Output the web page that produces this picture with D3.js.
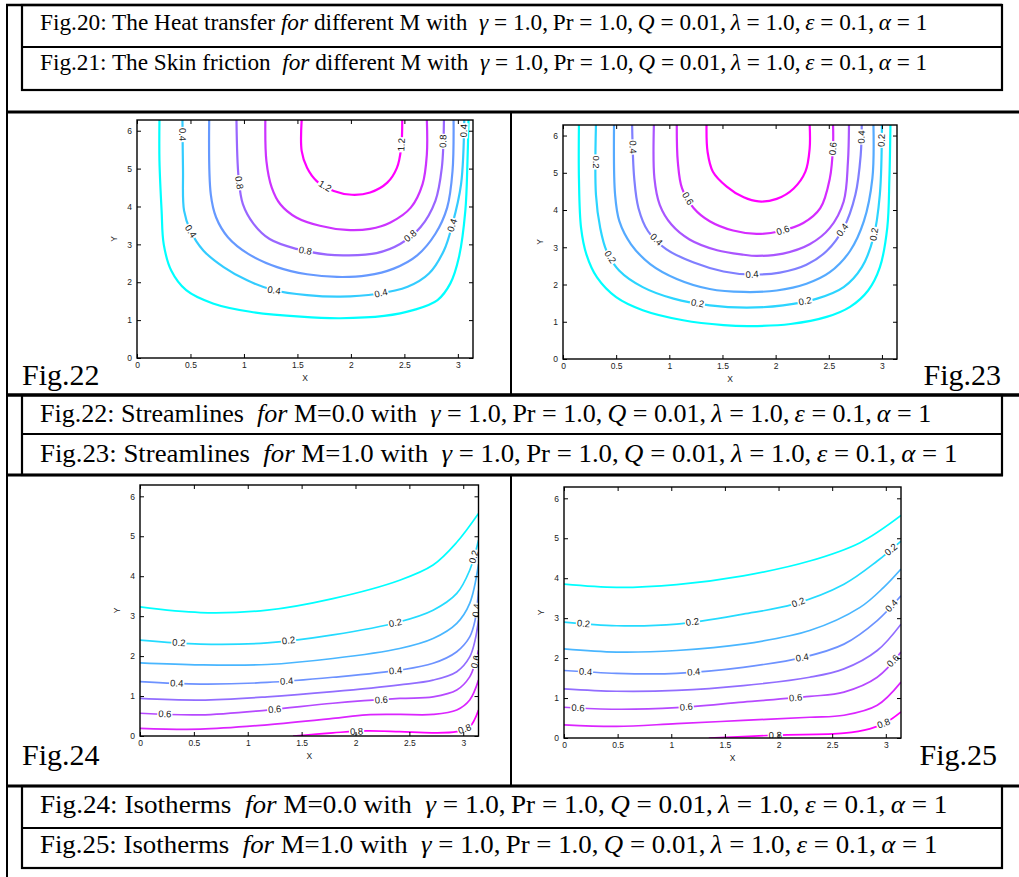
<!DOCTYPE html>
<html>
<head>
<meta charset="utf-8">
<script src="https://cdn.jsdelivr.net/npm/d3@7"></script>
<style>
  body { margin: 0; background: #fff; }
  svg { display: block; }
</style>
</head>
<body>
<script>
// ---- data ----
const xTicks = [0, 0.5, 1, 1.5, 2, 2.5, 3];
const yTicks = [0, 1, 2, 3, 4, 5, 6];

const paramText = "_γ_ = 1.0,\u2009Pr = 1.0,\u2009_Q_ = 0.01,\u2009_λ_ = 1.0,\u2009_ε_ = 0.1,\u2009_α_ = 1";
const captionsTop = [
  "Fig.20: The Heat transfer _for_ different M with  " + paramText,
  "Fig.21: The Skin friction  _for_ different M with  " + paramText
];
const captionsMid = [
  "Fig.22: Streamlines  _for_ M=0.0 with  " + paramText,
  "Fig.23: Streamlines  _for_ M=1.0 with  " + paramText
];
const captionsBot = [
  "Fig.24: Isotherms  _for_ M=0.0 with  " + paramText,
  "Fig.25: Isotherms  _for_ M=1.0 with  " + paramText
];
const figNames = ["Fig.22", "Fig.23", "Fig.24", "Fig.25"];

// Fig.22 streamlines, M = 0
const fig22Levels = [0.2, 0.4, 0.6, 0.8, 1.0, 1.2];
const fig22Lines = [
  [[0.21,6.3],[0.21,5.2],[0.23,3.89],[0.25,3.0],[0.32,2.31],[0.46,1.79],[0.71,1.44],[1.06,1.22],[1.53,1.09],[1.9,1.05],[2.31,1.11],[2.59,1.27],[2.81,1.53],[2.93,1.97],[3.01,2.66],[3.07,3.89],[3.09,5.2],[3.1,6.3]],
  [[0.425,6.3],[0.43,5.0],[0.44,3.89],[0.5,3.36],[0.62,2.84],[0.81,2.4],[1.03,2.05],[1.28,1.79],[1.59,1.66],[1.9,1.62],[2.24,1.69],[2.53,1.88],[2.73,2.23],[2.87,2.84],[2.95,3.54],[3.03,4.59],[3.06,6.3]],
  [[0.675,6.3],[0.69,4.32],[0.74,3.71],[0.85,3.19],[1.04,2.75],[1.31,2.4],[1.59,2.21],[1.87,2.14],[2.15,2.18],[2.4,2.36],[2.62,2.71],[2.79,3.28],[2.9,3.97],[2.95,4.93],[2.96,6.3]],
  [[0.93,6.3],[0.95,4.76],[0.99,4.06],[1.09,3.54],[1.24,3.14],[1.49,2.88],[1.78,2.73],[1.96,2.71],[2.24,2.77],[2.46,3.01],[2.65,3.45],[2.79,4.15],[2.85,5.02],[2.87,6.3]],
  [[1.2,6.3],[1.21,5.2],[1.26,4.5],[1.34,4.06],[1.49,3.71],[1.71,3.49],[1.96,3.38],[2.18,3.41],[2.37,3.58],[2.56,3.97],[2.67,4.59],[2.71,5.37],[2.71,6.3]],
  [[1.54,6.3],[1.54,5.46],[1.59,5.02],[1.68,4.67],[1.84,4.41],[2.01,4.31],[2.18,4.37],[2.34,4.63],[2.43,5.02],[2.47,5.55],[2.48,6.3]]
];
const fig22Labels = [
  [0.4,0.42,5.9],[0.4,0.51,3.36],[0.4,1.28,1.75],[0.4,2.28,1.72],[0.4,2.96,3.49],[0.4,3.06,6.0],
  [0.8,0.96,4.63],[0.8,1.57,2.77],[0.8,2.54,3.28],[0.8,2.87,5.72],
  [1.2,1.74,4.45],[1.2,2.46,5.63]
];

// Fig.23 streamlines, M = 1
const fig23Levels = [0.1, 0.2, 0.3, 0.4, 0.5, 0.6, 0.7];
const fig23Lines = [
  [[0.15,6.3],[0.15,4.85],[0.17,3.52],[0.22,2.81],[0.32,2.19],[0.5,1.66],[0.75,1.31],[1.13,1.04],[1.51,0.91],[1.76,0.885],[2.14,0.94],[2.48,1.13],[2.7,1.4],[2.87,1.84],[2.98,2.46],[3.05,3.52],[3.07,4.85],[3.08,6.3]],
  [[0.31,6.3],[0.31,4.41],[0.35,3.52],[0.41,2.9],[0.53,2.37],[0.75,1.93],[1.04,1.62],[1.38,1.44],[1.73,1.38],[2.07,1.44],[2.39,1.62],[2.64,1.93],[2.81,2.46],[2.92,3.26],[2.98,4.41],[3.0,6.3]],
  [[0.48,6.3],[0.49,4.41],[0.53,3.7],[0.64,3.08],[0.82,2.55],[1.07,2.15],[1.38,1.88],[1.7,1.8],[2.01,1.84],[2.29,2.02],[2.51,2.33],[2.7,2.9],[2.83,3.7],[2.91,4.85],[2.92,6.3]],
  [[0.65,6.3],[0.67,4.85],[0.71,4.05],[0.8,3.43],[0.97,2.95],[1.23,2.59],[1.51,2.35],[1.76,2.27],[2.04,2.32],[2.29,2.53],[2.48,2.9],[2.64,3.52],[2.75,4.41],[2.8,5.47],[2.81,6.3]],
  [[0.855,6.3],[0.86,4.85],[0.91,4.14],[1.02,3.61],[1.19,3.21],[1.45,2.92],[1.7,2.8],[1.82,2.77],[2.07,2.83],[2.32,3.08],[2.51,3.52],[2.64,4.23],[2.68,5.29],[2.69,6.3]],
  [[1.07,6.3],[1.08,5.29],[1.12,4.58],[1.23,4.05],[1.38,3.7],[1.6,3.45],[1.82,3.36],[2.04,3.43],[2.26,3.65],[2.42,4.05],[2.51,4.85],[2.54,5.73],[2.54,6.3]],
  [[1.35,6.3],[1.36,5.56],[1.41,5.03],[1.54,4.63],[1.7,4.34],[1.84,4.23],[2.01,4.3],[2.17,4.58],[2.28,5.03],[2.32,5.65],[2.32,6.3]]
];
const fig23Labels = [
  [0.2,0.3,5.29],[0.2,0.44,2.73],[0.2,1.26,1.42],[0.2,2.28,1.5],[0.2,2.92,3.35],[0.2,3.0,5.87],
  [0.4,0.64,5.69],[0.4,0.88,3.21],[0.4,1.78,2.21],[0.4,2.62,3.48],[0.4,2.81,5.96],
  [0.6,1.18,4.32],[0.6,2.06,3.52],[0.6,2.53,5.65]
];

// Fig.24 isotherms, M = 0
const fig24Levels = [0.1, 0.2, 0.3, 0.4, 0.5, 0.6, 0.7, 0.8];
const fig24Lines = [
  [[0,3.23],[0.56,3.09],[1.18,3.15],[1.79,3.44],[2.41,3.9],[2.72,4.28],[2.94,4.85],[3.1416,5.57]],
  [[0,2.4],[0.56,2.3],[1.18,2.33],[1.79,2.53],[2.41,2.86],[2.72,3.15],[2.94,3.57],[3.06,4.15],[3.1416,4.9]],
  [[0,1.83],[0.56,1.78],[1.18,1.79],[1.79,1.94],[2.41,2.19],[2.72,2.44],[2.94,2.82],[3.06,3.32],[3.1416,4.3]],
  [[0,1.36],[0.56,1.3],[1.18,1.34],[1.79,1.47],[2.41,1.65],[2.72,1.82],[2.94,2.11],[3.06,2.48],[3.11,2.9],[3.1416,3.65]],
  [[0,0.94],[0.56,0.9],[1.18,0.98],[1.79,1.11],[2.41,1.28],[2.72,1.4],[2.94,1.61],[3.06,1.98],[3.11,2.4],[3.1416,2.9]],
  [[0,0.57],[0.56,0.53],[1.18,0.65],[1.79,0.82],[2.41,0.94],[2.72,0.98],[2.94,1.15],[3.06,1.48],[3.11,1.82],[3.1416,2.15]],
  [[0,0.19],[0.56,0.17],[1.18,0.28],[1.79,0.44],[2.1,0.53],[2.41,0.54],[2.72,0.54],[2.94,0.65],[3.06,0.9],[3.1416,1.4]],
  [[1.42,0],[1.79,0.08],[2.1,0.13],[2.41,0.11],[2.72,0.08],[2.94,0.11],[3.06,0.23],[3.1416,0.65]]
];
const fig24Labels = [
  [0.2,0.36,2.28],[0.2,1.38,2.36],[0.2,2.37,2.82],[0.2,3.09,4.49],
  [0.4,0.34,1.28],[0.4,1.36,1.42],[0.4,2.37,1.69],[0.4,3.11,3.15],
  [0.6,0.23,0.48],[0.6,1.25,0.67],[0.6,2.24,0.88],[0.6,3.11,1.86],
  [0.8,2.01,0.13],[0.8,3.01,0.2]
];

// Fig.25 isotherms, M = 1
const fig25Levels = [0.1, 0.2, 0.3, 0.4, 0.5, 0.6, 0.7, 0.8];
const fig25Lines = [
  [[0,3.85],[0.49,3.77],[1.05,3.84],[1.67,4.06],[2.29,4.43],[2.76,4.89],[3.1416,5.57]],
  [[0,2.9],[0.49,2.81],[1.05,2.85],[1.67,3.1],[2.14,3.35],[2.61,3.85],[2.92,4.43],[3.1416,4.93]],
  [[0,2.23],[0.49,2.15],[1.05,2.19],[1.67,2.35],[2.29,2.69],[2.76,3.27],[2.98,3.77],[3.1416,4.23]],
  [[0,1.69],[0.49,1.62],[1.05,1.62],[1.67,1.77],[2.23,2.02],[2.61,2.35],[2.92,2.94],[3.1416,3.56]],
  [[0,1.23],[0.49,1.17],[1.05,1.19],[1.67,1.31],[2.29,1.52],[2.61,1.73],[2.92,2.19],[3.1416,2.85]],
  [[0,0.77],[0.49,0.72],[1.05,0.76],[1.67,0.9],[2.29,1.04],[2.61,1.15],[2.92,1.52],[3.1416,2.15]],
  [[0,0.33],[0.49,0.29],[1.05,0.36],[1.67,0.44],[2.29,0.52],[2.61,0.57],[2.92,0.82],[3.1416,1.4]],
  [[1.35,0],[1.98,0.07],[2.61,0.12],[2.85,0.23],[3.01,0.4],[3.1416,0.65]]
];
const fig25Labels = [
  [0.2,0.18,2.8],[0.2,1.2,2.85],[0.2,2.19,3.35],[0.2,3.06,4.68],
  [0.4,0.2,1.62],[0.4,1.21,1.65],[0.4,2.22,2.02],[0.4,3.07,3.27],
  [0.6,0.13,0.73],[0.6,1.14,0.76],[0.6,2.16,0.97],[0.6,3.08,1.9],
  [0.8,1.97,0.07],[0.8,2.98,0.36]
];

// ---- drawing ----
const W = 1019, H = 877;
const svg = d3.select('body').append('svg')
  .attr('width', W)
  .attr('height', H);

const serif = "'Liberation Serif','Times New Roman',serif";
const sans = "Arial,'Liberation Sans',Helvetica,sans-serif";

// page table lines
let hline = (x1, x2, y, w) => svg.append('line')
  .attr('x1', x1).attr('x2', x2).attr('y1', y).attr('y2', y)
  .attr('stroke', '#000').attr('stroke-width', w);
let vline = (x, y1, y2, w) => svg.append('line')
  .attr('x1', x).attr('x2', x).attr('y1', y1).attr('y2', y2)
  .attr('stroke', '#000').attr('stroke-width', w);

vline(7, 4, H, 2);
hline(6, 1002, 5, 2.5);
hline(6, W, 112, 3);
vline(511, 112, 395, 2);
hline(6, W, 395, 3.5);
hline(6, 1003, 475, 3);
vline(511, 475, 786, 2);
hline(6, W, 786, 3);

let captionBox = (y0, y1, y2) => {
  svg.append('rect')
    .attr('x', 22).attr('y', y0).attr('width', 980).attr('height', y2 - y0)
    .attr('fill', 'none').attr('stroke', '#000').attr('stroke-width', 2.2);
  hline(22, 1002, y1, 2);
};
captionBox(5, 47, 90);
captionBox(395, 434, 475);
captionBox(786, 828, 868);

let caption = (str, baseline, size, endX) => {
  const t = svg.append('text')
    .attr('x', 0).attr('y', 0)
    .style('font-family', serif)
    .style('font-size', size + 'px')
    .style('white-space', 'pre')
    .attr('fill', '#000');
  str.split('_').forEach((part, i) => {
    t.append('tspan').text(part).style('font-style', i % 2 ? 'italic' : 'normal');
  });
  const len = t.node().getComputedTextLength();
  const sx = (endX - 40) / len;
  t.attr('transform', `translate(40,${baseline}) scale(${sx},1)`);
};
caption(captionsTop[0], 30, 23, 928);
caption(captionsTop[1], 70, 23, 928);
caption(captionsMid[0], 422, 25, 932);
caption(captionsMid[1], 462, 25, 958);
caption(captionsBot[0], 813, 25, 948);
caption(captionsBot[1], 853, 25, 938);

let figLabel = (name, x, y, anchor) => svg.append('text')
  .text(name)
  .attr('x', x).attr('y', y)
  .attr('text-anchor', anchor)
  .style('font-family', serif)
  .style('font-size', '30px');
figLabel(figNames[0], 22, 385, 'start');
figLabel(figNames[1], 1001, 385, 'end');
figLabel(figNames[2], 22, 765, 'start');
figLabel(figNames[3], 997, 765, 'end');

let panelCount = 0;
function panel(box, levels, lines, labels, lw) {
  const x = d3.scaleLinear().domain([0, Math.PI]).range([box.l, box.r]);
  const y = d3.scaleLinear().domain([0, 2 * Math.PI]).range([box.b, box.t]);
  const color = d3.scaleLinear()
    .domain([d3.min(levels), d3.max(levels)])
    .range(['#00ffff', '#ff00ff'])
    .interpolate(d3.interpolateRgb);

  const id = 'clip' + (panelCount++);
  svg.append('clipPath').attr('id', id).append('rect')
    .attr('x', box.l).attr('y', box.t)
    .attr('width', box.r - box.l).attr('height', box.b - box.t);

  const g = svg.append('g');
  const line = d3.line()
    .x(d => x(d[0]))
    .y(d => y(d[1]))
    .curve(d3.curveCatmullRom.alpha(0.5));

  const cg = g.append('g').attr('clip-path', `url(#${id})`);
  cg.selectAll('path')
    .data(lines)
    .join('path')
    .attr('d', line)
    .attr('fill', 'none')
    .attr('stroke', (d, i) => color(levels[i]))
    .attr('stroke-width', lw)
    .attr('stroke-linejoin', 'round');

  // inline contour labels, snapped onto their line
  labels.forEach(([lev, lx, ly]) => {
    const pts = lines[levels.indexOf(lev)].map(p => [x(p[0]), y(p[1])]);
    const qx = x(lx), qy = y(ly);
    let best = null;
    for (let i = 0; i < pts.length - 1; i++) {
      const [ax, ay] = pts[i], [bx, by] = pts[i + 1];
      const dx = bx - ax, dy = by - ay;
      let t = ((qx - ax) * dx + (qy - ay) * dy) / (dx * dx + dy * dy);
      t = Math.max(0, Math.min(1, t));
      const px = ax + t * dx, py = ay + t * dy;
      const dist = Math.hypot(qx - px, qy - py);
      if (!best || dist < best.dist) best = { dist, px, py, ang: Math.atan2(dy, dx) * 180 / Math.PI };
    }
    const lg = cg.append('g')
      .attr('transform', `translate(${best.px},${best.py}) rotate(${best.ang})`);
    const txt = lg.append('text')
      .text(d3.format('.1f')(lev))
      .attr('text-anchor', 'middle')
      .attr('dy', '0.35em')
      .style('font-family', sans)
      .style('font-size', '9.5px')
      .attr('fill', '#1a1a1a');
    const w = txt.node().getComputedTextLength() + 2;
    lg.insert('rect', 'text')
      .attr('x', -w / 2).attr('y', -4.5)
      .attr('width', w).attr('height', 9)
      .attr('fill', '#fff');
  });

  // axes, ticks on all four sides pointing inward
  const fmt = d3.format('~g');
  const styleAxis = a => {
    a.select('.domain').remove();
    a.selectAll('line').attr('stroke', '#000');
    a.selectAll('text')
      .attr('fill', '#222')
      .style('font-family', sans)
      .style('font-size', '8.5px');
  };
  g.append('g').attr('transform', `translate(0,${box.b})`)
    .call(d3.axisBottom(x).tickValues(xTicks).tickFormat(fmt).tickSizeInner(-4).tickSizeOuter(0).tickPadding(4))
    .call(styleAxis);
  g.append('g').attr('transform', `translate(0,${box.t})`)
    .call(d3.axisTop(x).tickValues(xTicks).tickFormat('').tickSizeInner(-4).tickSizeOuter(0))
    .call(styleAxis);
  g.append('g').attr('transform', `translate(${box.l},0)`)
    .call(d3.axisLeft(y).tickValues(yTicks).tickFormat(fmt).tickSizeInner(-4).tickSizeOuter(0).tickPadding(5))
    .call(styleAxis);
  g.append('g').attr('transform', `translate(${box.r},0)`)
    .call(d3.axisRight(y).tickValues(yTicks).tickFormat('').tickSizeInner(-4).tickSizeOuter(0))
    .call(styleAxis);

  g.append('rect')
    .attr('x', box.l).attr('y', box.t)
    .attr('width', box.r - box.l).attr('height', box.b - box.t)
    .attr('fill', 'none').attr('stroke', '#000').attr('stroke-width', 1.4);

  g.append('text').text('X')
    .attr('x', (box.l + box.r) / 2).attr('y', box.b + 23)
    .attr('text-anchor', 'middle')
    .style('font-family', sans).style('font-size', '8.5px').attr('fill', '#222');
  g.append('text').text('Y')
    .attr('transform', `translate(${box.l - 20},${(box.t + box.b) / 2}) rotate(-90)`)
    .attr('text-anchor', 'middle')
    .style('font-family', sans).style('font-size', '8.5px').attr('fill', '#222');
}

panel({ l: 137, r: 473, t: 120, b: 358 }, fig22Levels, fig22Lines, fig22Labels, 2.2);
panel({ l: 563, r: 897, t: 125, b: 359 }, fig23Levels, fig23Lines, fig23Labels, 2.2);
panel({ l: 140, r: 478.5, t: 485, b: 736 }, fig24Levels, fig24Lines, fig24Labels, 1.7);
panel({ l: 564, r: 901, t: 487, b: 738 }, fig25Levels, fig25Lines, fig25Labels, 1.7);
</script>
</body>
</html>
